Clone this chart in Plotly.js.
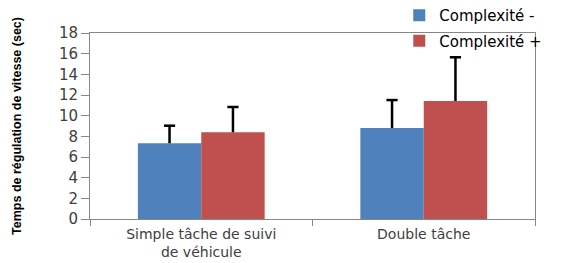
<!DOCTYPE html>
<html><head><meta charset="utf-8">
<script src="https://cdn.plot.ly/plotly-3.0.1.min.js"></script>
<style>html,body{margin:0;padding:0;background:#fff}#c{width:563px;height:263px}</style>
</head><body><div id="c"></div>
<script>
const categories = ["Simple tâche de suivi<br>de véhicule", "Double tâche"];
const seriesNames = ["Complexité -", "Complexité +"];
const valuesLow = [7.33, 8.81];
const valuesHigh = [8.39, 11.42];
const errLow = [1.7, 2.7];
const errHigh = [2.45, 4.23];
const yTicks = [0, 2, 4, 6, 8, 10, 12, 14, 16, 18];

const yTickFont = {family: "DejaVu Sans", size: 15, color: "#404040"};
const xTickFont = {family: "DejaVu Sans", size: 14, color: "#404040"};
function bar(name, vals, errs, color, grp) {
  return {type: "bar", name: name, x: categories, y: vals, legendgroup: grp, offsetgroup: grp,
    marker: {color: color},
    error_y: {type: "data", array: errs, symmetric: false, arrayminus: errs.map(() => 0),
      color: "#000", thickness: 2.5, width: 0}};
}
function cap(vals, errs, grp) {
  return {type: "scatter", mode: "markers", x: categories, y: vals.map((v, i) => v + errs[i]),
    offsetgroup: grp, showlegend: false, hoverinfo: "skip",
    marker: {symbol: "line-ew-open", size: 8, color: "#000", line: {color: "#000", width: 2.5}}};
}
const data = [
  bar(seriesNames[0], valuesLow, errLow, "#4F81BD", "a"),
  bar(seriesNames[1], valuesHigh, errHigh, "#C0504D", "b"),
  cap(valuesLow, errLow, "a"),
  cap(valuesHigh, errHigh, "b")
];
const layout = {
  width: 563, height: 263,
  margin: {l: 90, r: 28, t: 33, b: 44, autoexpand: false},
  paper_bgcolor: "#fff", plot_bgcolor: "#fff",
  barmode: "group", bargap: 0.43, bargroupgap: 0,
  scattermode: "group", scattergap: 0.43,
  showlegend: true,
  legend: {x: 0.695, y: 1.183, xanchor: "left", yanchor: "top",
    font: {family: "DejaVu Sans", size: 15, color: "#000"},
    bgcolor: "rgba(0,0,0,0)", tracegroupgap: 3, itemwidth: 30},
  xaxis: {type: "category", showline: true, linecolor: "#868686", linewidth: 1, mirror: true,
    ticks: "outside", tickson: "boundaries", ticklen: 6, tickcolor: "#868686",
    tickfont: xTickFont, ticklabelstandoff: 2, showgrid: false, zeroline: false, automargin: false},
  yaxis: {range: [0, 18], tickvals: yTicks, ticktext: yTicks.map(String),
    showline: true, linecolor: "#868686", linewidth: 1, mirror: true,
    ticks: "outside", ticklen: 8, tickcolor: "#868686", tickfont: yTickFont,
    showgrid: false, zeroline: false, automargin: false,
    title: {text: "Temps de régulation de vitesse (sec)", standoff: 34,
      font: {family: "Liberation Sans", size: 12.5, color: "#000", weight: "bold"}}}
};
Plotly.newPlot("c", data, layout, {displayModeBar: false, staticPlot: true});
</script></body></html>
